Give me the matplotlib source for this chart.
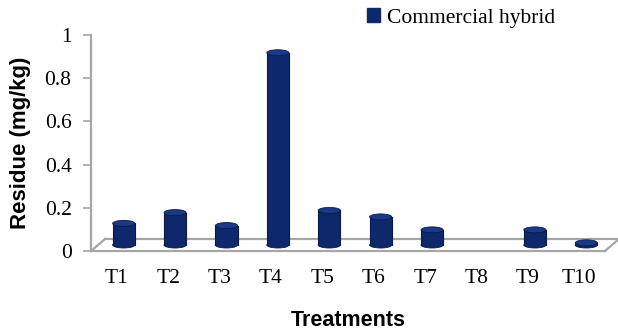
import matplotlib
matplotlib.use('Agg')
import matplotlib.pyplot as plt
import matplotlib.transforms as mtransforms
from matplotlib.patches import Rectangle, Ellipse, Patch
import numpy as np

treatments = ['T1', 'T2', 'T3', 'T4', 'T5', 'T6', 'T7', 'T8', 'T9', 'T10']
residue = [0.10, 0.15, 0.09, 0.89, 0.16, 0.13, 0.07, 0.0, 0.07, 0.01]
yticks = [0, 0.2, 0.4, 0.6, 0.8, 1]
ytick_labels = ['0', '0.2', '0.4', '0.6', '0.8', '1']

bar_color = '#0e286c'
top_color = '#1b3a85'
edge_color = '#09194a'
grey = '#a6a6a6'

fig = plt.figure(figsize=(6.18, 3.31), dpi=100)
ax = fig.add_axes([91/618, 80/331, 514/618, 216/331])

x = np.arange(len(treatments))
ax.set_xlim(-0.5, len(treatments) - 0.5)
ax.set_ylim(0, 1)

# 3d depth of the floor, in pixels (right, up)
depth_x, depth_y = 14, 12
back = ax.transData + mtransforms.ScaledTranslation(depth_x/100, depth_y/100, fig.dpi_scale_trans)
mid = ax.transData + mtransforms.ScaledTranslation(depth_x/200, depth_y/200, fig.dpi_scale_trans)

# floor: front edge in data coords, back edge shifted
x0, x1 = -0.5, len(treatments) - 0.5
for tr in (ax.transData, back):
    ax.plot([x0, x1], [0, 0], color=grey, lw=1.6, transform=tr, clip_on=False, zorder=1)
for xe in (x0, x1):
    p0 = ax.transData.transform((xe, 0))
    p1 = back.transform((xe, 0))
    ax.plot([p0[0], p1[0]], [p0[1], p1[1]], color=grey, lw=1.6,
            transform=None, clip_on=False, zorder=1)

# cylinders
w = 0.43
ell_h = 6 / 216  # ellipse height in data units (about 6 px)
for xi, v in zip(x, residue):
    if v <= 0:
        continue
    ax.add_patch(Ellipse((xi, 0), w, ell_h, facecolor=bar_color, edgecolor=edge_color,
                         lw=0.6, transform=mid, zorder=3))
    ax.add_patch(Rectangle((xi - w/2, 0), w, v, facecolor=bar_color, edgecolor='none',
                           transform=mid, zorder=3))
    ax.plot([xi - w/2, xi - w/2], [0, v], color=edge_color, lw=0.8, transform=mid, zorder=3)
    ax.plot([xi + w/2, xi + w/2], [0, v], color=edge_color, lw=0.8, transform=mid, zorder=3)
    ax.add_patch(Ellipse((xi, v), w, ell_h, facecolor=top_color, edgecolor=edge_color,
                         lw=0.6, transform=mid, zorder=4))

ax.spines['top'].set_visible(False)
ax.spines['right'].set_visible(False)
ax.spines['bottom'].set_visible(False)
ax.spines['left'].set_color(grey)
ax.spines['left'].set_linewidth(1.6)

ax.set_yticks(yticks)
ax.set_yticklabels(ytick_labels, family='Liberation Serif', fontsize=15.5)
ax.tick_params(axis='y', length=6, width=1.2, color=grey, pad=8)
ax.set_xticks(x)
ax.set_xticklabels(treatments, family='Liberation Serif', fontsize=15.5)
ax.tick_params(axis='x', length=0, pad=13)

ax.set_ylabel('Residue (mg/kg)', family='Liberation Sans', fontweight='bold',
              fontsize=16, labelpad=10)
ax.set_xlabel('Treatments', family='Liberation Sans', fontweight='bold',
              fontsize=15.5, labelpad=16)

fig.legend(handles=[Patch(facecolor=bar_color, edgecolor=bar_color)],
           labels=['Commercial hybrid'], loc='center', bbox_to_anchor=(0.746, 0.946),
           frameon=False, prop={'family': 'Liberation Serif', 'size': 15.5},
           handlelength=0.6, handleheight=0.6, handletextpad=0.3)

fig.savefig('out.png', dpi=100)
